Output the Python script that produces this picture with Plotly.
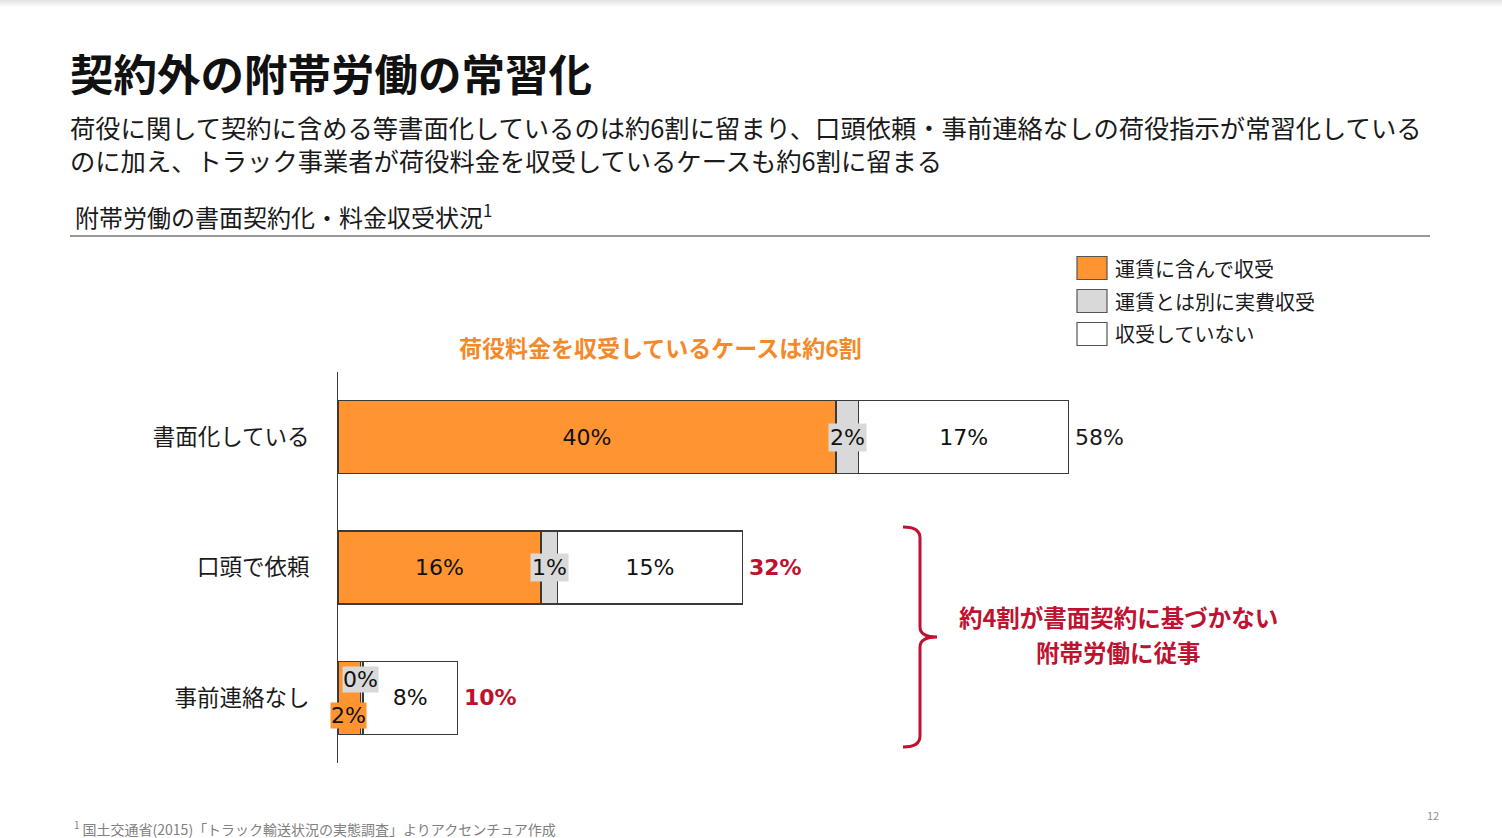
import plotly.graph_objects as go

# ---- data ----
categories = ["書面化している", "口頭で依頼", "事前連絡なし"]
series_names = ["運賃に含んで収受", "運賃とは別に実費収受", "収受していない"]
included = [40.0, 16.3, 1.8]
separate = [1.8, 1.3, 0.2]
not_received = [16.9, 14.9, 7.6]
included_labels = ["40%", "16%", "2%"]
separate_labels = ["2%", "1%", "0%"]
not_received_labels = ["17%", "15%", "8%"]
total_labels = ["58%", "32%", "10%"]
total_colors = ["#1a1a1a", "#C0102C", "#C0102C"]

W, H = 1502, 838
def px(x):
    return x / W
def py(y):
    return 1 - y / H

ORANGE = "#FF9430"
GRAY = "#D9D9D9"
RED = "#BE1230"
LINE = "#3a3a3a"
JP = "Noto Sans CJK JP"
NUM = "DejaVu Sans"
NS = 22

fig = go.Figure()
colors = [ORANGE, GRAY, "#FFFFFF"]
vals = [included, separate, not_received]
# in-bar labels drawn by the bar traces (small segments get annotations below)
texts = [
    [included_labels[0], included_labels[1], None],
    None,
    not_received_labels,
]
for name, v, c, t in zip(series_names, vals, colors, texts):
    kw = {}
    if t is not None:
        kw = dict(text=t, textposition="inside", insidetextanchor="middle",
                  textangle=0, constraintext="none",
                  textfont=dict(family=NUM, size=NS, color="#111111"))
    else:
        kw = dict(textposition="none")
    fig.add_trace(go.Bar(
        y=categories, x=v, name=name, orientation="h",
        marker=dict(color=c, line=dict(color=LINE, width=1.2)),
        width=0.56, showlegend=False, hoverinfo="skip", **kw,
    ))

fig.update_layout(
    barmode="stack",
    width=W, height=H,
    margin=dict(l=0, r=0, t=0, b=0),
    paper_bgcolor="white", plot_bgcolor="white",
    xaxis=dict(domain=[px(338), 1.0], range=[0, (W - 338) / 12.45],
               showgrid=False, zeroline=False, showticklabels=False,
               showline=False, fixedrange=True),
    yaxis=dict(domain=[py(763), py(372)], range=[2.5, -0.5],
               type="category", categoryorder="array", categoryarray=categories,
               showgrid=False, zeroline=False, showline=True,
               linecolor=LINE, linewidth=1, ticks="",
               ticklabelstandoff=23,
               tickfont=dict(family=JP, size=22.5, color="#1a1a1a")),
    bargap=0.44,
)

annotations = []
# small segment labels
annotations.append(dict(x=included[0] + separate[0] / 2, y=categories[0], xref="x", yref="y",
                        text=separate_labels[0], showarrow=False, bgcolor=GRAY,
                        font=dict(family=NUM, size=NS, color="#111111"), borderpad=1))
annotations.append(dict(x=included[1] + separate[1] / 2, y=categories[1], xref="x", yref="y",
                        text=separate_labels[1], showarrow=False, bgcolor=GRAY,
                        font=dict(family=NUM, size=NS, color="#111111"), borderpad=1))
annotations.append(dict(x=included[2] + separate[2] / 2, y=categories[2], xref="x", yref="y",
                        yshift=18, xshift=-1,
                        text=separate_labels[2], showarrow=False, bgcolor=GRAY,
                        font=dict(family=NUM, size=NS, color="#111111"), borderpad=0))
annotations.append(dict(x=included[2] / 2, y=categories[2], xref="x", yref="y",
                        yshift=-18, xshift=-1,
                        text=included_labels[2], showarrow=False, bgcolor=ORANGE,
                        font=dict(family=NUM, size=NS, color="#111111"), borderpad=0))
# totals
for i, cat in enumerate(categories):
    tot = included[i] + separate[i] + not_received[i]
    txt = total_labels[i] if i == 0 else f"<b>{total_labels[i]}</b>"
    annotations.append(dict(x=tot, y=cat, xref="x", yref="y", xanchor="left", xshift=4,
                            text=txt, showarrow=False,
                            font=dict(family=NUM, size=NS, color=total_colors[i])))

# titles and texts
def pa(x, y, text, size, color="#1a1a1a", anchor="left", family=JP, pad=1):
    annotations.append(dict(x=px(x), y=py(y), xref="paper", yref="paper", xanchor=anchor,
                            yanchor="middle", text=text, showarrow=False, borderpad=pad,
                            font=dict(family=family, size=size, color=color)))

pa(68, 72, "<b>契約外の附帯労働の常習化</b>", 43.5, "#111111")
pa(68, 127, "荷役に関して契約に含める等書面化しているのは約6割に留まり、口頭依頼・事前連絡なしの荷役指示が常習化している", 25.3, "#1a1a1a")
pa(68, 160, "のに加え、トラック事業者が荷役料金を収受しているケースも約6割に留まる", 25.3, "#1a1a1a")
pa(73, 216, "附帯労働の書面契約化・料金収受状況<sup>1</sup>", 24, "#1a1a1a")
pa(660, 347, "<b>荷役料金を収受しているケースは約6割</b>", 23, "#F4892A", anchor="center")
pa(1118, 617, "<b>約4割が書面契約に基づかない</b>", 23.5, RED, anchor="center", pad=0)
pa(1118, 652, "<b>附帯労働に従事</b>", 23.5, RED, anchor="center", pad=0)
pa(72, 828, "<sup>1</sup> 国土交通省(2015)「トラック輸送状況の実態調査」よりアクセンチュア作成", 14, "#808080")
pa(1425, 815, "12", 11, "#909090")

# legend (custom)
leg_y = [268, 301, 334]
for name, c, y in zip(series_names, colors, leg_y):
    fig.add_shape(type="rect", xref="paper", yref="paper",
                  x0=px(1077), x1=px(1107), y0=py(y + 11.5), y1=py(y - 11.5),
                  fillcolor=c, line=dict(color="#555555", width=1.2))
    pa(1113, y, name, 20, "#1a1a1a")

fig.update_layout(annotations=annotations)

# separator line under chart title
fig.add_shape(type="line", xref="paper", yref="paper", x0=px(70), x1=px(1430),
              y0=py(236), y1=py(236), line=dict(color="#333333", width=1.2))

# top shade
for i, col in enumerate(["#E6E6E6", "#EEEEEE", "#F6F6F6"]):
    fig.add_shape(type="rect", xref="paper", yref="paper", x0=0, x1=1,
                  y0=py(2 * i + 2), y1=py(2 * i), fillcolor=col, line=dict(width=0),
                  layer="below")

# bracket
def pt(x, y):
    return f"{px(x):.5f},{py(y):.5f}"
path = (f"M {pt(903,527)} Q {pt(920,527)} {pt(920,538)} L {pt(920,627)} "
        f"Q {pt(920,637)} {pt(937,637)} Q {pt(920,637)} {pt(920,647)} "
        f"L {pt(920,736)} Q {pt(920,747)} {pt(903,747)}")
fig.add_shape(type="path", xref="paper", yref="paper", path=path,
              line=dict(color=RED, width=3))

fig.write_html("out.html")
